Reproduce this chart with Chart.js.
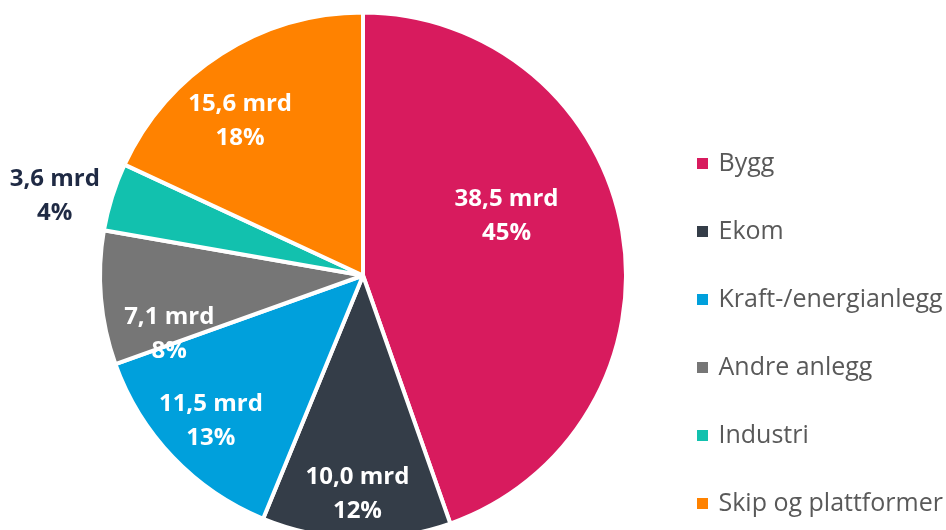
<!DOCTYPE html>
<html>
<head>
<meta charset="utf-8">
<title>Fordeling</title>
<script src="https://cdn.jsdelivr.net/npm/chart.js@4"></script>
<style>
  html, body { margin: 0; padding: 0; background: #fff; overflow: hidden; }
  #wrap { width: 946px; height: 530px; overflow: hidden; }
  canvas { display: block; margin-top: -8px; }
</style>
</head>
<body>
<div id="wrap"><canvas id="pie" width="946" height="575"></canvas></div>
<script>
const categories = ['Bygg', 'Ekom', 'Kraft-/energianlegg', 'Andre anlegg', 'Industri', 'Skip og plattformer'];
const valuesMrd = [38.5, 10.0, 11.5, 7.1, 3.6, 15.6];
const sliceColors = ['#D81B5E', '#343D48', '#00A0DC', '#767676', '#12C1AE', '#FF8200'];

// where the value labels sit: fraction of radius + small turn off the mid angle (deg)
const labelRadius = [0.59, 0.83, 0.80, 0.77, 1.21, 0.75];
const labelTurn = [-12.6, 0, 0, -12, -3, -6];
const labelColors = ['#fff', '#fff', '#fff', '#fff', '#1F2A44', '#fff'];

Chart.defaults.font.family = "'Open Sans', sans-serif";

const sliceLabels = {
    id: 'sliceLabels',
    afterDatasetsDraw(chart) {
        const ctx = chart.ctx;
        const meta = chart.getDatasetMeta(0);
        const total = valuesMrd.reduce((a, b) => a + b, 0);
        ctx.save();
        ctx.font = "bold 24px 'Open Sans'";
        ctx.textAlign = 'center';
        ctx.textBaseline = 'middle';
        meta.data.forEach((arc, i) => {
            const { x, y, startAngle, endAngle, outerRadius } =
                arc.getProps(['x', 'y', 'startAngle', 'endAngle', 'outerRadius'], true);
            const a = (startAngle + endAngle) / 2 + labelTurn[i] * Math.PI / 180;
            const r = outerRadius * labelRadius[i];
            const lx = x + Math.cos(a) * r;
            const ly = y + Math.sin(a) * r;
            ctx.fillStyle = labelColors[i];
            ctx.fillText(valuesMrd[i].toFixed(1).replace('.', ',') + ' mrd', lx, ly - 17);
            ctx.fillText(Math.round(valuesMrd[i] / total * 100) + '%', lx, ly + 17);
        });
        ctx.restore();
    }
};

new Chart(document.getElementById('pie'), {
    type: 'pie',
    data: {
        labels: categories,
        datasets: [{
            data: valuesMrd,
            backgroundColor: sliceColors,
            borderColor: '#fff',
            borderWidth: 4,
            radius: 263
        }]
    },
    options: {
        responsive: false,
        animation: false,
        devicePixelRatio: 1,
        layout: { padding: { left: 70, right: 0, top: 0, bottom: 8 } },
        plugins: {
            tooltip: { enabled: false },
            legend: {
                position: 'right',
                align: 'end',
                maxWidth: 290,
                labels: {
                    usePointStyle: true,
                    pointStyle: 'rect',
                    boxWidth: 7,
                    boxHeight: 11,
                    padding: 43,
                    color: '#595959',
                    font: { size: 25 },
                    generateLabels: chart =>
                        Chart.overrides.pie.plugins.legend.labels.generateLabels(chart)
                            .map(item => Object.assign(item, { lineWidth: 0 }))
                }
            }
        }
    },
    plugins: [sliceLabels]
});
</script>
</body>
</html>
